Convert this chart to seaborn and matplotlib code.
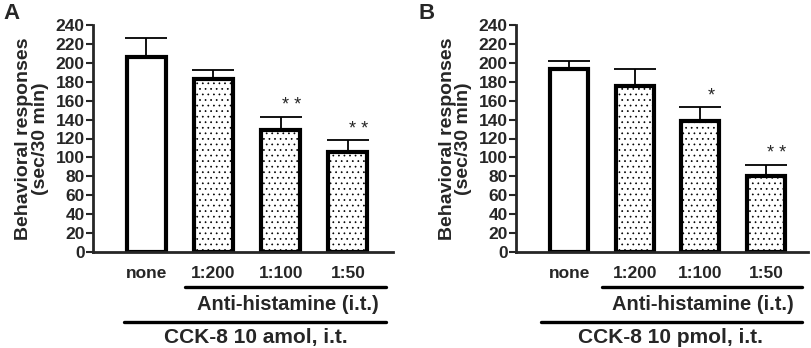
import numpy as np
import pandas as pd
import seaborn as sns
import matplotlib.pyplot as plt

# datos
grupos = ["none", "1:200", "1:100", "1:50"]
media_a = [206, 183, 129, 106]
error_a = [20, 9, 14, 12]
sig_a = ["", "", "* *", "* *"]
media_b = [193, 176, 139, 80]
error_b = [9, 17, 14, 12]
sig_b = ["", "", "*", "* *"]
dosis_a = "CCK-8 10 amol, i.t."
dosis_b = "CCK-8 10 pmol, i.t."
tratamiento = "Anti-histamine (i.t.)"
ylabel = "Behavioral responses\n(sec/30 min)"
yticks = list(range(0, 241, 20))

sns.set_style("ticks")
plt.rcParams["font.family"] = ["Liberation Sans", "DejaVu Sans"]
plt.rcParams["font.weight"] = "bold"
plt.rcParams["hatch.linewidth"] = 0.5
plt.rcParams["hatch.color"] = "black"

fig = plt.figure(figsize=(8.12, 3.48), dpi=100)
ax_a = fig.add_axes([93 / 812, 96 / 348, 300 / 812, 227 / 348])
ax_b = fig.add_axes([516 / 812, 96 / 348, 292 / 812, 227 / 348])


def panel(ax, medias, errores, sig, dosis, xlim, ant_x, cck_x, txt_x, lab_x):
    df = pd.DataFrame({"grupo": grupos, "valor": medias})
    sns.barplot(data=df, x="grupo", y="valor", order=grupos, color="white",
                edgecolor="black", linewidth=3, width=0.58, errorbar=None,
                saturation=1, ax=ax, zorder=2)
    for p in ax.patches[1:]:
        p.set_hatch("...")
    x = np.arange(len(grupos))
    ax.errorbar(x, medias, yerr=[np.zeros(len(x)), errores], fmt="none",
                ecolor="black", elinewidth=1.3, capsize=15, capthick=1.3, zorder=1)
    for xi, m, e, s in zip(x, medias, errores, sig):
        if s:
            ax.text(xi + 0.16, m + e + 3, s, ha="center", va="bottom",
                    fontsize=13, fontweight="normal")

    ax.set_ylim(0, 240)
    ax.set_xlim(*xlim)
    ax.set_yticks(yticks)
    ax.tick_params(axis="y", labelsize=12.5, width=1.5, length=5, pad=1)
    ax.tick_params(axis="x", length=0, labelsize=12.5, pad=10)
    for lab in ax.get_xticklabels() + ax.get_yticklabels():
        lab.set_fontweight("bold")
    ax.set_xlabel("")
    ax.set_ylabel(ylabel, fontsize=14, fontweight="bold", linespacing=0.95)
    ax.yaxis.set_label_coords(lab_x, 0.5)
    sns.despine(ax=ax)
    for lado in ["left", "bottom"]:
        ax.spines[lado].set_linewidth(2)

    tr = ax.get_xaxis_transform()
    ax.plot(ant_x, [-0.154, -0.154], color="black", lw=2.4, transform=tr, clip_on=False)
    ax.plot(cck_x, [-0.308, -0.308], color="black", lw=2.4, transform=tr, clip_on=False)
    ax.text(txt_x[0], -0.232, tratamiento, transform=tr, ha="center", va="center",
            fontsize=14.5, fontweight="bold")
    ax.text(txt_x[1], -0.378, dosis, transform=tr, ha="center", va="center",
            fontsize=15, fontweight="bold")


panel(ax_a, media_a, error_a, sig_a, dosis_a, (-0.79, 3.67),
      [0.58, 3.57], [-0.33, 3.57], (2.1, 1.63), -0.148)
panel(ax_b, media_b, error_b, sig_b, dosis_b, (-0.81, 3.64),
      [0.50, 3.55], [-0.43, 3.55], (2.04, 1.55), -0.15)

fig.text(3 / 812, 1 - 3 / 348, "A", ha="left", va="top", fontsize=16, fontweight="bold")
fig.text(419 / 812, 1 - 3 / 348, "B", ha="left", va="top", fontsize=16, fontweight="bold")

fig.savefig("out.png", dpi=100)
